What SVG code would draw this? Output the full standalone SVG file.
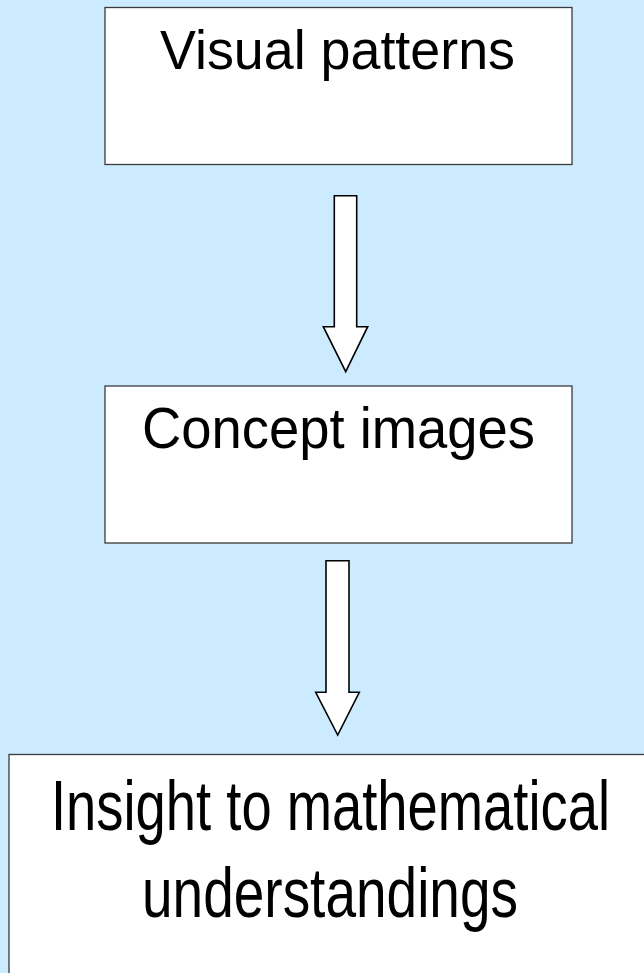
<svg xmlns="http://www.w3.org/2000/svg" width="644" height="973" viewBox="0 0 644 973">
<style>
.box{fill:#ffffff;stroke:#3a3a3a;stroke-width:1.3}
.arrow{fill:#ffffff;stroke:#000000;stroke-width:1.6;stroke-linejoin:miter}
.lbl{font-family:"Liberation Sans","DejaVu Sans",sans-serif;fill:#000000;text-anchor:middle}
</style>
<rect x="0" y="0" width="644" height="973" fill="#CCEBFF"/>
<g id="node-visual-patterns">
<rect class="box" x="105" y="7.5" width="467" height="157"/>
<text class="lbl" x="337.5" y="69" font-size="56" textLength="355" lengthAdjust="spacingAndGlyphs">Visual patterns</text>
</g>
<g id="node-concept-images">
<rect class="box" x="105" y="386" width="467" height="157"/>
<text class="lbl" x="338.5" y="447.5" font-size="57" textLength="393" lengthAdjust="spacingAndGlyphs">Concept images</text>
</g>
<g id="node-insight">
<rect class="box" x="9" y="754.5" width="645" height="230"/>
<text class="lbl" x="330.5" y="829.8" font-size="70" textLength="559" lengthAdjust="spacingAndGlyphs">Insight to mathematical</text>
<text class="lbl" x="330" y="916.9" font-size="70" textLength="376" lengthAdjust="spacingAndGlyphs">understandings</text>
</g>
<g id="connectors">
<path class="arrow" d="M334.3,195.7 L356.7,195.7 L356.7,326.7 L367.7,326.7 L345.7,371.7 L323.3,326.7 L334.3,326.7 Z"/>
<path class="arrow" d="M326,560.7 L349,560.7 L349,692.3 L359.3,692.3 L337.7,735 L315.7,692.3 L326,692.3 Z"/>
</g>
</svg>
